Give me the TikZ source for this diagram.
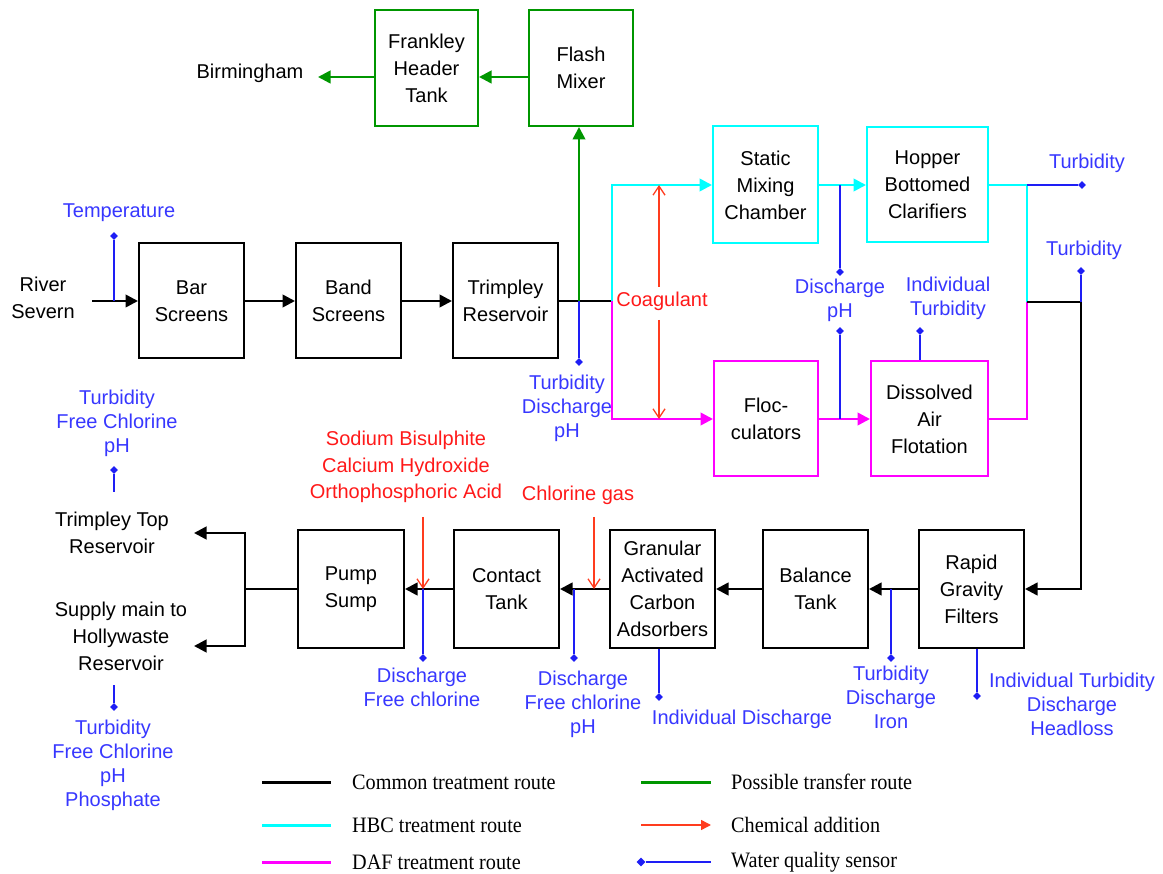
\documentclass[tikz,border=0pt]{standalone}
\usepackage{fontspec}
\setmainfont{Liberation Sans}
\newfontfamily\legfont[FakeStretch=0.92]{Liberation Serif}
\usetikzlibrary{arrows.meta,shapes.geometric}
\definecolor{cgreen}{RGB}{0,150,0}
\definecolor{ccyan}{RGB}{0,255,255}
\definecolor{cmag}{RGB}{255,0,255}
\definecolor{cred}{RGB}{255,60,30}
\definecolor{credtxt}{RGB}{255,25,25}
\definecolor{cblue}{RGB}{30,30,245}
\definecolor{cbluetxt}{RGB}{55,55,255}
\begin{document}
\begin{tikzpicture}[x=1pt,y=-1pt,
  box/.style={draw, line width=2pt, minimum width=105pt, minimum height=115pt, align=center, inner sep=0pt, font=\fontsize{20}{27}\selectfont},
  flow/.style={line width=2.6pt, -{Triangle[length=12.5pt,width=12.5pt]}},
  route/.style={line width=2.6pt},
  sensor/.style={cblue, line width=1.4pt},
  sdot/.style={diamond, fill=cblue, inner sep=0pt, minimum size=8pt},
  lbl/.style={cbluetxt, align=center, inner sep=0pt, font=\fontsize{20}{24}\selectfont},
  chem/.style={cred, line width=1.3pt, -{Straight Barb[length=9pt,width=12pt]}},
  redlbl/.style={credtxt, align=center, inner sep=0pt, font=\fontsize{20}{26.5}\selectfont},
  plain/.style={align=center, inner sep=0pt, font=\fontsize{20}{27}\selectfont},
  legtxt/.style={anchor=west, inner sep=0pt, font=\legfont\fontsize{22}{24}\selectfont}]
\useasboundingbox (0,0) rectangle (1163,874);

% ---------- boxes ----------
\node[box] (bar) at (191.5,301) {Bar\\Screens};
\node[box] (band) at (348.5,301) {Band\\Screens};
\node[box] (trim) at (505.5,301) {Trimpley\\Reservoir};
\node[box, draw=cgreen, minimum width=103pt, minimum height=116pt] (frank) at (426.5,68) {Frankley\\Header\\Tank};
\node[box, draw=cgreen, minimum width=104pt, minimum height=116pt] (flash) at (581,68) {Flash\\Mixer};
\node[box, draw=ccyan, minimum height=117pt] (smc) at (765.5,185) {Static\\Mixing\\Chamber};
\node[box, draw=ccyan, minimum width=121pt] (hbc) at (927.5,185) {Hopper\\Bottomed\\Clarifiers};
\node[box, draw=cmag, minimum width=104pt] (floc) at (766,419) {Floc-\\culators};
\node[box, draw=cmag, minimum width=117pt] (daf) at (929.5,419) {Dissolved\\Air\\Flotation};
\node[box, minimum width=106pt, minimum height=117pt] (pump) at (351,589) {Pump\\Sump};
\node[box, minimum height=117pt] (contact) at (506.5,589) {Contact\\Tank};
\node[box, minimum height=117pt] (gac) at (662.5,589) {Granular\\Activated\\Carbon\\Adsorbers};
\node[box, minimum height=117pt] (balance) at (815.5,589) {Balance\\Tank};
\node[box, minimum height=117pt] (rgf) at (971.5,589) {Rapid\\Gravity\\Filters};

% ---------- plain labels ----------
\node[plain] (river) at (43,298) {River\\Severn};
\node[plain] (birm) at (250,73) {Birmingham};
\node[plain] (ttr) at (112,532.5) {Trimpley Top\\Reservoir};
\node[plain] (smh) at (121,636.5) {Supply main to\\Hollywaste\\Reservoir};

% ---------- coordinates ----------
\coordinate (rs) at (92,301);
\coordinate (t1) at (114,301);
\coordinate (j1) at (579,301);
\coordinate (j2) at (612,301);
\coordinate (birmtip) at (318,77);
\coordinate (c1) at (1027,185);
\coordinate (jr) at (1027,302);
\coordinate (jb) at (1081,302);
\coordinate (jo) at (245,589);
\coordinate (o1) at (194,533);
\coordinate (o2) at (194,646);

% ---------- main flow ----------
\draw[flow] (rs) -- (bar.west);
\draw[flow] (bar.east) -- (band.west);
\draw[flow] (band.east) -- (trim.west);
\draw[route] (trim.east) -- (j2);
\draw[flow, cgreen] (j1) -- (j1 |- flash.south);
\draw[flow, cgreen] ([yshift=-9pt]flash.west) -- ([yshift=-9pt]frank.east);
\draw[flow, cgreen] ([yshift=-9pt]frank.west) -- (birmtip);
\draw[flow, ccyan] (j2) |- (smc.west);
\draw[flow, cmag] (j2) |- (floc.west);
\draw[flow, ccyan] (smc.east) -- (hbc.west);
\draw[flow, cmag] (floc.east) -- (daf.west);
\draw[route, ccyan] (hbc.east) -- (c1) -- (jr);
\draw[route, cmag] (daf.east) -| (jr);
\draw[route] (jr) -- (jb);
\draw[flow] (jb) |- (rgf.east);
\draw[flow] (rgf.west) -- (balance.east);
\draw[flow] (balance.west) -- (gac.east);
\draw[flow] (gac.west) -- (contact.east);
\draw[flow] (contact.west) -- (pump.east);
\draw[route] (pump.west) -- (jo);
\draw[flow] (jo) |- (o1);
\draw[flow] (jo) |- (o2);

% ---------- coagulant ----------
\node[redlbl] (coag) at (662,301) {Coagulant};
\coordinate (cg1) at (659,287);
\coordinate (cg2) at (659,320);
\coordinate (cgt) at (659,185);
\coordinate (cgb) at (659,419);
\draw[chem] (cg1) -- (cgt);
\draw[chem] (cg2) -- (cgb);

% ---------- chemical additions bottom ----------
\node[redlbl] (chems) at (406,467) {Sodium Bisulphite\\Calcium Hydroxide\\Orthophosphoric Acid};
\coordinate (ca1) at (423,517);
\coordinate (ca2) at (423,589);
\draw[chem] (ca1) -- (ca2);
\node[redlbl] (clg) at (578,495) {Chlorine gas};
\coordinate (cb1) at (594,517);
\coordinate (cb2) at (594,589);
\draw[chem] (cb1) -- (cb2);

% ---------- sensors ----------
\node[sdot] (d1) at (114,236) {};
\draw[sensor] (t1) -- (d1);
\node[lbl] (l1) at (119,213) {Temperature};

\node[sdot] (d2) at (579,362) {};
\draw[sensor] (j1) -- (d2);
\node[lbl] (l2) at (567,408) {Turbidity\\Discharge\\pH};

\coordinate (s3) at (840,185);
\node[sdot] (d3) at (840,272) {};
\draw[sensor] (s3) -- (d3);
\node[lbl] (l3) at (840,300) {Discharge\\pH};
\node[sdot] (d3b) at (840,331) {};
\coordinate (s3b) at (840,419);
\draw[sensor] (d3b) -- (s3b);

\node[sdot] (d4) at (920,331) {};
\draw[sensor] (d4) -- (d4 |- daf.north);
\node[lbl] (l4) at (948,298) {Individual\\Turbidity};

\node[sdot] (d5) at (1082,185) {};
\draw[sensor] (c1) -- (d5);
\node[lbl] (l5) at (1087,163) {Turbidity};

\node[sdot] (d6) at (1081,271) {};
\draw[sensor] (jb) -- (d6);
\node[lbl] (l6) at (1084,250) {Turbidity};

\coordinate (s7) at (891,589);
\node[sdot] (d7) at (891,658) {};
\draw[sensor] (s7) -- (d7);
\node[lbl] (l7) at (891,697) {Turbidity\\Discharge\\Iron};

\node[sdot] (d8) at (977,696) {};
\draw[sensor] (d8 |- rgf.south) -- (d8);
\node[lbl] (l8) at (1072,704) {Individual Turbidity\\Discharge\\Headloss};

\node[sdot] (d9) at (659,697) {};
\draw[sensor] (d9 |- gac.south) -- (d9);
\node[lbl] (l9) at (742,719) {Individual Discharge};

\coordinate (s10) at (574,589);
\node[sdot] (d10) at (574,658) {};
\draw[sensor] (s10) -- (d10);
\node[lbl] (l10) at (583,704) {Discharge\\Free chlorine\\pH};

\node[sdot] (d11) at (423,658) {};
\draw[sensor] (ca2) -- (d11);
\node[lbl] (l11) at (422,687) {Discharge\\Free chlorine};

\node[sdot] (d12) at (114,470) {};
\coordinate (s12) at (114,492);
\draw[sensor] (s12) -- (d12);
\node[lbl] (l12) at (117,423) {Turbidity\\Free Chlorine\\pH};

\node[sdot] (d13) at (114,707) {};
\coordinate (s13) at (114,685);
\draw[sensor] (s13) -- (d13);
\node[lbl] (l13) at (113,765.5) {Turbidity\\Free Chlorine\\pH\\Phosphate};

% ---------- legend ----------
\coordinate (la1) at (262,782); \coordinate (lb1) at (331,782);
\coordinate (la2) at (262,825); \coordinate (lb2) at (331,825);
\coordinate (la3) at (262,862); \coordinate (lb3) at (331,862);
\coordinate (ra1) at (641,782); \coordinate (rb1) at (711,782);
\coordinate (ra2) at (641,825); \coordinate (rb2) at (711,825);
\coordinate (ra3) at (641,862); \coordinate (rb3) at (711,862);
\draw[line width=3pt] (la1) -- (lb1);
\draw[line width=3pt, ccyan] (la2) -- (lb2);
\draw[line width=3pt, cmag] (la3) -- (lb3);
\draw[line width=3pt, cgreen] (ra1) -- (rb1);
\draw[cred, line width=1.5pt, -{Triangle[length=10pt,width=10pt]}] (ra2) -- (rb2);
\node[sdot, minimum size=9pt] (ld) at (ra3) {};
\draw[sensor] (ld) -- (rb3);
\node[legtxt] (lt1) at (352,782) {Common treatment route};
\node[legtxt] (lt2) at (352,825) {HBC treatment route};
\node[legtxt] (lt3) at (352,862) {DAF treatment route};
\node[legtxt] (lt4) at (731,782) {Possible transfer route};
\node[legtxt] (lt5) at (731,825) {Chemical addition};
\node[legtxt] (lt6) at (731,862) {Water quality sensor};
\end{tikzpicture}
\end{document}
